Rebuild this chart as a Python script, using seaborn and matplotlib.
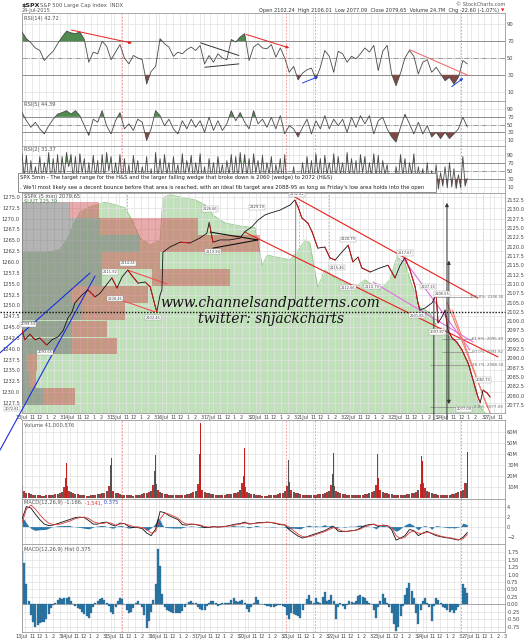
import numpy as np
import seaborn as sns
import matplotlib.pyplot as plt
from matplotlib.patches import Rectangle

# ---------------- data ----------------
day_labels = ["13Jul", "14Jul", "15Jul", "16Jul", "17Jul", "20Jul", "21Jul",
              "22Jul", "23Jul", "24Jul", "27Jul"]
hour_labels = ["11", "12", "1", "2", "3"]
event_days = [2.24, 5.92, 6.57, 9.85]

# $SPX 5 min (time in trading days from 13 Jul open, price)
price_x = [0.00, 0.06, 0.17, 0.28, 0.38, 0.53, 0.64, 0.77, 0.88, 0.98,
           1.07, 1.13, 1.28, 1.41, 1.56, 1.67, 1.77, 1.92, 2.03, 2.14,
           2.26, 2.37, 2.48, 2.63, 2.74, 2.84, 2.88, 2.95, 2.99, 3.01,
           3.16, 3.38, 3.59, 3.80, 3.95, 4.00, 4.08, 4.23, 4.44, 4.66,
           4.76, 4.91, 5.04, 5.19, 5.30, 5.51, 5.73, 5.83, 5.90, 5.98,
           6.11, 6.20, 6.32, 6.47, 6.58, 6.69, 6.84, 6.97, 7.07, 7.18,
           7.26, 7.44, 7.65, 7.82, 7.97, 8.08, 8.18, 8.29, 8.40, 8.46,
           8.50, 8.61, 8.76, 8.85, 8.89, 8.97, 9.04, 9.10, 9.19, 9.29,
           9.40, 9.53, 9.62, 9.68, 9.74, 9.79, 9.85, 9.94, 10.00]
price_y = [2097.6, 2095.0, 2096.5, 2095.0, 2095.5, 2093.6, 2095.0, 2095.8, 2097.5, 2100.8,
           2102.5, 2104.9, 2107.0, 2108.4, 2106.5, 2107.5, 2109.2, 2111.6, 2108.9, 2111.9,
           2113.7, 2111.9, 2110.2, 2110.5, 2109.2, 2104.3, 2102.5, 2107.0, 2108.4, 2118.5,
           2119.9, 2121.2, 2121.0, 2122.3, 2123.6, 2126.5, 2121.2, 2121.8, 2121.8, 2122.3,
           2124.0, 2125.3, 2127.1, 2128.5, 2129.0, 2129.8, 2131.2, 2132.5, 2130.6, 2127.7,
           2126.3, 2123.9, 2119.6, 2119.9, 2117.0, 2116.4, 2118.6, 2120.4, 2115.9, 2117.2,
           2114.3, 2113.2, 2114.3, 2115.0, 2111.6, 2115.0, 2117.0, 2113.7, 2109.2, 2104.9,
           2103.0, 2103.5, 2104.9, 2107.0, 2099.5, 2101.1, 2103.0, 2097.6, 2095.5, 2094.4,
           2092.3, 2088.8, 2085.0, 2082.4, 2079.7, 2078.1, 2081.5, 2080.7, 2079.65]

# $UUT overlay (left scale)
uut_x = [0.00, 0.49, 0.81, 0.96, 1.13, 1.24, 1.45, 1.67, 1.77, 1.99,
         2.20, 2.35, 2.52, 2.74, 2.95, 3.01, 3.16, 3.38, 3.70, 3.91,
         4.08, 4.34, 4.66, 4.98, 5.13, 5.24, 5.41, 5.73, 5.94, 6.05,
         6.15, 6.32, 6.47, 6.69, 6.90, 7.12, 7.33, 7.65, 7.86, 8.01,
         8.18, 8.33, 8.50, 8.72, 8.93, 9.15, 9.36, 9.57, 9.74, 9.89, 10.00]
uut_y = [1262.1, 1262.1, 1262.8, 1265.1, 1269.2, 1271.5, 1272.7, 1273.4, 1273.8, 1273.2,
         1272.5, 1269.7, 1265.5, 1263.9, 1265.1, 1274.8, 1275.5, 1275.0, 1274.3, 1273.2,
         1270.8, 1269.0, 1268.3, 1267.9, 1259.3, 1261.6, 1261.2, 1260.5, 1263.2, 1265.1,
         1264.4, 1254.2, 1258.2, 1256.3, 1255.2, 1254.2, 1255.9, 1253.6, 1255.9, 1261.2,
         1259.8, 1254.7, 1249.6, 1248.3, 1243.7, 1242.7, 1240.4, 1235.8, 1227.5, 1225.2, 1225.0]

# volume by price (price level, up-volume length, down-volume span)
vbp_level = [2129.8, 2125.4, 2120.8, 2116.3, 2111.7, 2107.2,
             2102.6, 2097.9, 2093.3, 2088.9, 2084.4, 2079.8]
vbp_up = [1.03, 1.67, 2.52, 1.71, 1.71, 1.07, 1.28, 1.07, 1.07, 0.11, 0.15, 0.45]
vbp_dn_start = [1.03, 1.67, 2.52, 1.71, 2.78, 1.07, 1.28, 1.07, 1.07, 0.11, 0.15, 0.45]
vbp_dn_end = [1.65, 3.76, 5.09, 2.95, 4.44, 2.69, 2.20, 1.82, 2.03, 0.32, 0.30, 1.13]

# indicators, sampled every 0.1 day
rsi14 = [81, 73, 68, 62, 59, 47, 53, 58, 67, 75,
         82, 80, 79, 81, 72, 45, 57, 55, 70, 64,
         48, 57, 66, 50, 43, 53, 50, 48, 19, 34,
         40, 73, 67, 63, 52, 57, 55, 60, 63, 59,
         65, 43, 53, 45, 55, 50, 48, 72, 69, 75,
         79, 47, 63, 67, 62, 61, 66, 51, 62, 50,
         33, 40, 24, 32, 36, 38, 25, 39, 59, 52,
         33, 58, 55, 45, 52, 49, 55, 62, 57, 65,
         35, 58, 65, 31, 17, 32, 50, 59, 52, 31,
         45, 48, 33, 39, 31, 23, 27, 19, 27, 47,
         43]
rsi5 = [81, 60, 43, 56, 39, 26, 47, 64, 77, 81,
        86, 77, 86, 73, 47, 22, 64, 56, 86, 47,
        26, 60, 81, 39, 52, 35, 64, 56, 9, 39,
        86, 73, 47, 64, 39, 26, 60, 39, 64, 43,
        60, 30, 69, 35, 60, 35, 52, 86, 60, 81,
        56, 39, 86, 52, 64, 43, 69, 39, 73, 26,
        47, 39, 18, 43, 64, 26, 60, 39, 73, 39,
        64, 47, 64, 30, 69, 43, 73, 52, 73, 26,
        60, 69, 39, 18, 5, 43, 77, 52, 26, 56,
        26, 47, 18, 30, 14, 30, 14, 26, 39, 69,
        44]
macd_line = [1.5, 4.0, 3.7, 2.5, 1.4, 0.5, 0.2, 0.3, 0.6, 0.9,
             1.2, 1.5, 1.8, 1.9, 1.8, 1.2, 0.5, 0.5, 0.8, 0.9,
             0.4, 0.1, 0.7, 0.6, 0.0, -0.2, -0.2, -0.4, -1.3, -1.8,
             -0.5, 3.0, 2.8, 2.2, 1.8, 1.4, 0.4, 0.3, 0.5, 0.4,
             0.2, -0.2, -0.2, 0.0, -0.1, 0.0, 0.1, 0.3, 0.5, 0.6,
             0.9, 0.5, 0.6, 0.8, 0.8, 0.9, 0.8, 0.6, 0.4, 0.3,
             -0.6, -1.3, -1.9, -2.3, -2.0, -1.7, -1.4, -1.1, -0.8, -0.3,
             0.0, -0.9, -1.0, -0.95, -0.8, -0.7, -0.3, 0.2, 0.4, 0.5,
             0.0, 0.3, 0.2, -0.6, -2.7, -2.3, -1.8, -0.6, -0.8, -1.8,
             -1.3, -0.95, -1.4, -1.8, -2.0, -2.2, -2.3, -2.5, -2.7, -2.2,
             -1.17]
macd_signal = [0.8, 3.5, 4.3, 3.5, 2.4, 1.4, 0.7, 0.4, 0.4, 0.6,
               0.9, 1.2, 1.6, 1.8, 1.9, 1.6, 1.0, 0.7, 0.6, 0.8,
               0.7, 0.3, 0.5, 0.6, 0.3, 0.0, -0.1, -0.2, -0.6, -1.3,
               -1.0, 1.5, 2.7, 2.5, 2.1, 1.7, 0.9, 0.5, 0.5, 0.45,
               0.3, 0.0, -0.1, -0.05, -0.05, -0.05, 0.05, 0.2, 0.35, 0.5,
               0.7, 0.65, 0.6, 0.7, 0.75, 0.85, 0.85, 0.7, 0.5, 0.4,
               -0.1, -0.8, -1.5, -2.0, -2.1, -1.9, -1.6, -1.3, -1.0, -0.6,
               -0.2, -0.5, -0.9, -0.95, -0.85, -0.75, -0.5, 0.0, 0.3, 0.45,
               0.2, 0.2, 0.2, -0.2, -1.8, -2.4, -2.1, -1.2, -0.9, -1.3,
               -1.4, -1.1, -1.3, -1.6, -1.9, -2.1, -2.2, -2.4, -2.6, -2.45,
               -1.54]

# sampled every 0.05 day
rsi2 = [92, 35, 88, 20, 75, 15, 60, 30, 85, 25, 70, 40, 95, 20, 80, 30, 90, 15, 85, 40,
        95, 60, 90, 30, 85, 20, 92, 45, 80, 15, 70, 25, 88, 35, 75, 10, 90, 30, 95, 50,
        85, 20, 70, 35, 90, 15, 80, 25, 65, 10, 88, 40, 75, 20, 60, 30, 85, 10, 55, 5,
        95, 30, 80, 25, 90, 40, 70, 15, 85, 35, 65, 20, 92, 30, 75, 45, 88, 20, 70, 35,
        92, 20, 60, 15, 80, 30, 70, 25, 85, 35, 65, 20, 75, 40, 90, 30, 85, 25, 95, 40,
        90, 35, 80, 20, 92, 45, 75, 30, 88, 25, 70, 40, 85, 20, 65, 35, 80, 15, 90, 10,
        30, 15, 60, 10, 45, 20, 70, 25, 85, 30, 75, 20, 92, 35, 80, 15, 88, 40, 70, 30,
        92, 25, 85, 40, 70, 20, 95, 35, 80, 30, 75, 15, 90, 45, 85, 25, 70, 35, 92, 30,
        88, 20, 75, 40, 65, 10, 30, 5, 60, 25, 90, 35, 80, 20, 70, 40, 92, 15, 60, 25,
        55, 10, 70, 8, 50, 15, 65, 5, 45, 12, 60, 8, 70, 10, 55, 6, 40, 8, 85, 12,
        31]
macd_hist = [1.80, 1.40, 0.70, 0.10, -0.35, -0.60, -0.75, -0.68, -0.62, -0.60,
             -0.58, -0.50, -0.32, -0.12, -0.02, 0.05, 0.15, 0.20, 0.18, 0.22,
             0.20, 0.26, 0.12, 0.02, -0.06, -0.12, -0.16, -0.25, -0.32, -0.40,
             -0.45, -0.28, -0.10, 0.05, 0.12, 0.18, 0.22, 0.16, 0.05, -0.06,
             -0.25, -0.32, -0.08, 0.12, 0.20, 0.18, 0.00, -0.20, -0.30, -0.25,
             -0.12, 0.05, 0.10, 0.02, -0.10, -0.35, -0.80, -0.55, -0.25, 0.15,
             0.70, 1.85, 1.30, 0.35, -0.10, -0.20, -0.22, -0.26, -0.28, -0.30,
             -0.28, -0.30, -0.22, -0.10, 0.00, 0.08, 0.12, 0.06, 0.04, -0.08,
             -0.15, -0.18, -0.20, -0.05, 0.05, 0.10, 0.12, 0.03, -0.05, -0.02,
             0.05, 0.04, 0.06, 0.05, 0.15, 0.22, 0.12, 0.08, 0.10, 0.16,
             0.05, -0.15, -0.25, -0.10, 0.05, 0.25, 0.15, 0.02, 0.00, -0.03,
             -0.05, -0.04, -0.08, -0.10, -0.05, -0.02, -0.03, -0.05, -0.10, -0.35,
             -0.50, -0.30, -0.32, -0.35, -0.40, -0.45, -0.20, 0.00, 0.18, 0.30,
             0.10, 0.05, 0.20, 0.08, 0.05, 0.25, 0.40, 0.10, 0.15, 0.30,
             0.10, -0.50, -0.10, 0.05, -0.05, -0.15, -0.02, 0.10, 0.08, 0.05,
             0.12, 0.28, 0.30, 0.25, 0.22, 0.10, 0.05, 0.00, -0.20, -0.45,
             -0.10, 0.10, 0.35, 0.20, 0.05, -0.10, -0.30, -0.65, -0.90, -0.75,
             -0.40, -0.05, 0.30, 0.55, 0.72, 0.45, 0.20, -0.30, -0.65, -0.20,
             0.10, 0.20, 0.05, -0.10, -0.55, -0.05, 0.20, 0.15, 0.05, -0.08,
             -0.12, -0.20, -0.25, -0.18, -0.28, -0.20, -0.10, 0.02, 0.70, 0.55,
             0.375]
volume = [12, 7, 5, 4.5, 4, 3.5, 3, 3, 2.8, 2.5, 2.6, 3, 3.2, 3, 3.5, 4, 4.2, 5, 6, 10,
          11, 7, 5.5, 4.5, 4, 3.8, 3.2, 3, 2.8, 2.6, 2.5, 2.8, 3, 3.2, 3.6, 4, 4.5, 5.2, 6.5, 11,
          10, 6.5, 5, 4.5, 4, 3.5, 3.2, 3, 2.9, 2.7, 2.6, 3, 3.1, 3.4, 3.8, 4.5, 5, 6, 7, 12,
          13, 8, 6, 5, 4.2, 3.8, 3.5, 3.1, 3, 2.8, 2.8, 3, 3.2, 3.5, 3.8, 4.2, 4.8, 5.5, 7, 13,
          12, 8, 6, 5, 4.5, 4, 3.6, 3.3, 3, 3, 3.2, 3.4, 3.6, 3.8, 4.2, 4.6, 5.2, 6, 8, 14,
          10, 6, 5, 4.2, 3.8, 3.4, 3, 2.8, 2.6, 2.5, 2.5, 2.7, 3, 3.2, 3.5, 4, 4.5, 5, 6.5, 11,
          12, 8, 6, 5, 4.5, 4, 3.5, 3.2, 3, 2.9, 2.8, 3, 3.3, 3.6, 4, 4.4, 5, 5.8, 7, 12,
          11, 7, 5.5, 4.8, 4.2, 3.8, 3.4, 3.1, 2.9, 2.8, 2.8, 3, 3.2, 3.5, 3.9, 4.3, 4.8, 5.5, 7, 12,
          12, 8, 6, 5.2, 4.6, 4, 3.6, 3.3, 3.1, 3, 3, 3.2, 3.5, 3.8, 4.2, 4.6, 5.2, 6, 7.5, 13,
          14, 9, 6.5, 5.5, 4.8, 4.2, 3.8, 3.5, 3.2, 3, 3, 3.2, 3.5, 3.8, 4.2, 4.8, 5.5, 6.5, 8, 14,
          10]
# closing-bar volume spikes at each day boundary (14Jul .. 27Jul), millions
vol_spike_gray = [18, 30, 25, 40, 20, 35, 22, 40, 38, 14]
vol_spike_red = [32, 36, 39, 68, 45, 15, 41, 18, 34, 42]

fib_names = ["100.0%", "61.8%", "50.0%", "38.2%", "0.0%"]
fib_levels = [2106.55, 2095.30, 2091.82, 2088.34, 2077.09]
fib_start = [8.87, 8.97, 8.97, 8.72, 8.72]

tag_x = [0.13, 0.49, 1.88, 2.26, 1.99, 2.80, 4.02, 4.08, 5.02, 5.88, 6.97,
         6.73, 6.97, 7.48, 8.18, 8.68, 8.97, 8.44, 8.87, 9.85, 9.45]
tag_y = [2099.2, 2091.7, 2113.2, 2115.6, 2106.0, 2100.9, 2130.1, 2118.6, 2130.6,
         2134.0, 2122.0, 2114.3, 2109.0, 2109.2, 2118.3, 2109.2, 2107.3, 2101.4,
         2097.1, 2084.2, 2076.4]
tag_text = ["2099.53", "2093.65", "2111.92", "2114.24", "2108.46", "2102.46",
            "2126.66", "2119.90", "2129.19", "2132.82", "2120.79", "2115.46",
            "2112.66", "2110.79", "2117.67", "2107.15", "2106.55", "2101.85",
            "2097.87", "2082.73", "2077.09"]

# hand-drawn lines on the price panel ((x0, y0), (x1, y1), colour)
price_lines = [((5.83, 2133.3), (9.74, 2106.2), "#e8201c"),
               ((4.76, 2123.9), (10.17, 2090.4), "#e8201c"),
               ((2.26, 2113.7), (3.10, 2110.0), "#f05050"),
               ((1.99, 2106.2), (2.84, 2102.5), "#f05050"),
               ((4.02, 2123.9), (5.04, 2121.8), "#111111"),
               ((4.08, 2119.6), (5.04, 2121.8), "#111111"),
               ((7.50, 2110.5), (9.64, 2094.4), "#e070e0"),
               ((8.14, 2116.9), (9.57, 2092.3), "#e070e0"),
               ((9.08, 2105.1), (10.00, 2075.4), "#f08070"),
               ((9.19, 2103.0), (9.94, 2077.0), "#f08070")]
blue_lines = [((-0.47, 2091.5), (1.45, 2112.9)), ((-0.47, 2065.4), (1.56, 2112.1))]
rsi_lines = [((1.05, 84), (2.53, 67), "#e8201c", True),
             ((4.98, 79), (6.06, 61), "#e8201c", True),
             ((6.24, 19), (6.71, 29), "#2040e0", True),
             ((8.70, 60), (10.03, 29), "#f06060", False),
             ((9.60, 14), (9.96, 28), "#2040e0", True),
             ((4.01, 68), (4.87, 53), "#333333", False),
             ((4.11, 39), (4.87, 43), "#333333", False)]

# ---------------- figure ----------------
W, H = 529, 640
sns.set_style("white")
plt.rcParams["font.family"] = ["DejaVu Sans"]
fig = plt.figure(figsize=(W / 100, H / 100), dpi=100)

t10 = np.arange(len(rsi14)) * 0.1
t20 = np.arange(len(rsi2)) * 0.05

xt, xl = [], []
for k, lab in enumerate(day_labels):
    xt.append(k)
    xl.append(lab)
    for j, h in enumerate(hour_labels):
        xt.append(k + (j + 1.5) / 6.5)
        xl.append(h)
minor_x = [k + 0.5 / 6.5 for k in range(11)]

GREEN = "#4f8a4f"
BROWN = "#7e4a46"
GRID = "#e2e2e2"
FS = 3.7


def panel(top, bottom, yticks, ylim, ylabels=None, xlabels=False):
    ax = fig.add_axes([22 / W, 1 - bottom / H, (505 - 22) / W, (bottom - top) / H])
    ax.set_xlim(0, 10.32)
    ax.set_ylim(*ylim)
    ax.set_xticks(xt)
    ax.set_xticks(minor_x, minor=True)
    ax.set_xticklabels(xl if xlabels else [])
    ax.yaxis.tick_right()
    ax.set_yticks(yticks)
    if ylabels is not None:
        ax.set_yticklabels(ylabels)
    ax.tick_params(length=0, labelsize=FS, colors="#444444", pad=1.5)
    ax.grid(True, which="both", color=GRID, lw=0.5)
    ax.set_axisbelow(True)
    for s in ax.spines.values():
        s.set_color("#9a9a9a")
        s.set_linewidth(0.6)
    for d in event_days:
        ax.axvline(d, color="#f08a8a", ls=(0, (2, 2)), lw=0.6, zorder=1)
    return ax


def label(ax, txt, y=0.97):
    return ax.text(0.005, y, txt, transform=ax.transAxes, fontsize=FS,
                   color="#555555", va="top", ha="left", zorder=6)


def rsi_panel(top, bottom, vals, x, ylim, name):
    ax = panel(top, bottom, [10, 30, 50, 70, 90], ylim)
    v = np.array(vals, dtype=float)
    ax.fill_between(x, v, 70, where=v >= 70, interpolate=True, color=GREEN, lw=0, zorder=2)
    ax.fill_between(x, v, 30, where=v <= 30, interpolate=True, color=BROWN, lw=0, zorder=2)
    for lv in (70, 30):
        ax.axhline(lv, color="#8e8e8e", lw=0.7, zorder=1.5)
    ax.axhline(50, color="#8e8e8e", lw=0.6, ls="-.", zorder=1.5)
    sns.lineplot(x=x, y=v, ax=ax, color="#4a4a4a", lw=0.6, zorder=3)
    ax.set_xlabel("")
    ax.set_ylabel("")
    label(ax, name)
    return ax


ax14 = rsi_panel(13, 101, rsi14, t10, (-1.2, 103.6), "RSI(14) 42.72")
for (p0, p1, c, arrow) in rsi_lines:
    if arrow:
        ax14.annotate("", xy=p1, xytext=p0,
                      arrowprops=dict(arrowstyle="-|>", color=c, lw=0.7,
                                      mutation_scale=4), zorder=5)
    else:
        ax14.plot([p0[0], p1[0]], [p0[1], p1[1]], color=c, lw=0.7, zorder=5)

rsi_panel(101, 146, rsi5, t10, (-5.3, 111), "RSI(5) 44.39")
rsi_panel(146, 193, rsi2, t20, (-5, 111), "RSI(2) 31.37")

# ---------------- price panel ----------------
ax_l = panel(193, 413, np.arange(1227.5, 1276, 2.5), (1225.2, 1275.9), xlabels=True)
ax_l.yaxis.tick_left()
ax_l.set_yticklabels([f"{v:.1f}" for v in np.arange(1227.5, 1276, 2.5)])
ax_l.tick_params(axis="x", pad=1.2, labelsize=3.5)
ax_l.fill_between(uut_x, uut_y, 1225.2, color="#bfe0b8", lw=0, zorder=1)
sns.lineplot(x=uut_x, y=uut_y, ax=ax_l, color="#86c07c", lw=0.5, zorder=1.2)
ax_l.set_xlabel("")
ax_l.set_ylabel("")
ax_l.set_axisbelow("line")

ax_p = ax_l.twinx()
ax_p.set_ylim(2075.35, 2134.4)
ax_p.set_xlim(0, 10.32)
ax_p.set_yticks(np.arange(2077.5, 2133, 2.5))
ax_p.set_yticklabels([f"{v:.1f}" for v in np.arange(2077.5, 2133, 2.5)])
ax_p.tick_params(length=0, labelsize=FS, colors="#444444", pad=1.5)
for s in ax_p.spines.values():
    s.set_visible(False)

up_w = np.array(vbp_up)
dn_w = np.array(vbp_dn_end) - np.array(vbp_dn_start)
ax_p.barh(vbp_level, up_w, height=4.45, left=0, color="#6a6a6a", alpha=0.5, lw=0, zorder=1)
ax_p.barh(vbp_level, dn_w, height=4.45, left=vbp_dn_start, color="#cc4444",
          alpha=0.45, lw=0, zorder=1)

for (p0, p1, c) in price_lines:
    ax_p.plot([p0[0], p1[0]], [p0[1], p1[1]], color=c, lw=0.8, zorder=4)
for (p0, p1) in blue_lines:
    ax_p.plot([p0[0], p1[0]], [p0[1], p1[1]], color="#1a2fe0", lw=0.8,
              zorder=4, clip_on=False)
ax_p.plot([5.83, 5.83], [2132.5, 2105.7], color="#888888", lw=0.6, zorder=3)
ax_p.axhline(2102.5, xmin=-0.045, xmax=1.0, color="#111111", lw=1.0,
             ls=(0, (1, 1.2)), zorder=4, clip_on=False)

for lvl, name, x0 in zip(fib_levels, fib_names, fib_start):
    ax_p.plot([x0, 9.62], [lvl, lvl], color="#8a8a8a", lw=0.5, zorder=3)
    ax_p.text(10.28, lvl, f"{name}: {lvl:.2f}", fontsize=2.8, color="#666666",
              va="center", ha="right", zorder=6)

sns.lineplot(x=price_x, y=price_y, ax=ax_p, color="#111111", lw=0.6, zorder=5)
for i in range(len(price_x) - 1):
    if price_y[i + 1] < price_y[i]:
        ax_p.plot(price_x[i:i + 2], price_y[i:i + 2], color="#d01818", lw=0.7, zorder=5)
ax_p.set_xlabel("")
ax_p.set_ylabel("")

for x, y, t in zip(tag_x, tag_y, tag_text):
    ax_p.text(x, y, t, fontsize=2.6, color="#444444", ha="center", va="center",
              zorder=7, bbox=dict(boxstyle="square,pad=0.15", fc="white",
                                  ec="#9a9a9a", lw=0.3))

arrow_kw = dict(color="#333333", lw=0.7, mutation_scale=5)
ax_p.annotate("", xy=(8.80, 2071.6), xytext=(8.80, 2107.0),
              arrowprops=dict(arrowstyle="-|>", **arrow_kw), annotation_clip=False, zorder=6)
ax_p.annotate("", xy=(9.08, 2062.0), xytext=(9.08, 2132.5),
              arrowprops=dict(arrowstyle="<|-|>", **arrow_kw), annotation_clip=False, zorder=6)
ax_p.annotate("", xy=(9.12, 2077.0), xytext=(9.12, 2117.0),
              arrowprops=dict(arrowstyle="<|-|>", **arrow_kw), annotation_clip=False, zorder=6)

ax_p.text(5.30, 2104.9, "www.channelsandpatterns.com", fontsize=10, style="italic",
          family="DejaVu Serif", color="#111111", ha="center", va="center", zorder=8)
ax_p.text(5.32, 2100.6, "twitter: shjackcharts", fontsize=10, style="italic",
          family="DejaVu Serif", color="#111111", ha="center", va="center", zorder=8)
label(ax_l, "$SPX (5 min) 2079.65", y=0.995)
ax_l.text(0.005, 0.972, "$UUT 225.39", transform=ax_l.transAxes, fontsize=FS,
          color="#4f8a4f", va="top", zorder=6)
ax_l.text(-0.005, 0.02, "2072.81", transform=ax_l.transAxes, fontsize=2.6,
          color="#444444", ha="right", va="center",
          bbox=dict(boxstyle="square,pad=0.15", fc="white", ec="#9a9a9a", lw=0.3))

# ---------------- volume ----------------
axv = panel(420, 499, [10, 20, 30, 40, 50, 60], (-0.5, 70.6),
            ylabels=["10M", "20M", "30M", "40M", "50M", "60M"])
vcol = ["#c23030" if i > 0 and rsi2[i] < rsi2[i - 1] else "#5a5a5a" for i in range(len(rsi2))]
axv.bar(t20, volume, width=0.045, color=vcol, lw=0, zorder=2)
axv.bar(np.arange(1, 11) - 0.02, vol_spike_gray, width=0.02, color="#555555", lw=0, zorder=3)
axv.bar(np.arange(1, 11), vol_spike_red, width=0.025, color="#c21f1f", lw=0, zorder=3)
label(axv, "Volume 41,000,576")

# ---------------- MACD ----------------
axm = panel(499, 544, [-2, 0, 2, 4], (-3.48, 5.52))
axm.fill_between(t20, macd_hist, 0, color="#2c78a8", lw=0, zorder=2)
sns.lineplot(x=t10, y=macd_line, ax=axm, color="#111111", lw=0.6, zorder=3)
sns.lineplot(x=t10, y=macd_signal, ax=axm, color="#e03a3a", lw=0.6, zorder=3)
axm.set_xlabel("")
axm.set_ylabel("")
t1 = label(axm, "MACD(12,26,9) -1.166,")
t2 = axm.annotate(" -1.541,", xy=(1, 0), xycoords=t1, va="bottom", fontsize=FS, color="#e03a3a")
axm.annotate(" 0.375", xy=(1, 0), xycoords=t2, va="bottom", fontsize=FS, color="#3050d0")

# ---------------- MACD hist ----------------
hticks = np.arange(-0.75, 1.8, 0.25)
axh = panel(544, 632, hticks, (-0.93, 2.03), ylabels=[f"{v:.2f}" for v in hticks], xlabels=True)
axh.bar(t20, macd_hist, width=0.045, color="#2c78a8", edgecolor="#1d5a80", lw=0.2, zorder=2)
axh.axhline(0, color="#8e8e8e", lw=0.5, zorder=1.5)
axh.tick_params(axis="x", pad=1.2, labelsize=3.5)
label(axh, "MACD(12,26,9) Hist 0.375")

# ---------------- header + note box ----------------
fig.text(22 / W, 1 - 5 / H, "$SPX", fontsize=4.5, weight="bold", color="#222222", va="center")
fig.text(40 / W, 1 - 5 / H, "S&P 500 Large Cap Index  INDX", fontsize=3.8, color="#555555", va="center")
fig.text(22 / W, 1 - 10.5 / H, "24-Jul-2015", fontsize=3.6, color="#555555", va="center")
fig.text(505 / W, 1 - 5 / H, "\u00a9 StockCharts.com", fontsize=3.6, color="#555555",
         va="center", ha="right")
fig.text(499 / W, 1 - 10.5 / H,
         "Open 2102.24  High 2106.01  Low 2077.09  Close 2079.65  Volume 24.7M  Chg -22.60 (-1.07%)",
         fontsize=3.6, color="#333333", va="center", ha="right")
fig.text(501 / W, 1 - 10.5 / H, "\u25bc", fontsize=3.2, color="#d02020", va="center", ha="left")

fig.add_artist(Rectangle((18 / W, 1 - 192 / H), (436 - 18) / W, 19 / H,
                         transform=fig.transFigure, fc="white", ec="#7a7a7a", lw=0.6, zorder=10))
fig.text(20 / W, 1 - 178 / H,
         "SPX 5min - The target range for the H&S and the larger falling wedge that broke down is 2060 (wedge) to 2072 (H&S)",
         fontsize=3.75, color="#222222", va="center", zorder=11)
fig.text(20 / W, 1 - 187 / H,
         ". We'll most likely see a decent bounce before that area is reached, with an ideal fib target area 2088-95 as long as Friday's low area holds into the open",
         fontsize=3.75, color="#222222", va="center", zorder=11)

fig.savefig("out.png", dpi=100)
